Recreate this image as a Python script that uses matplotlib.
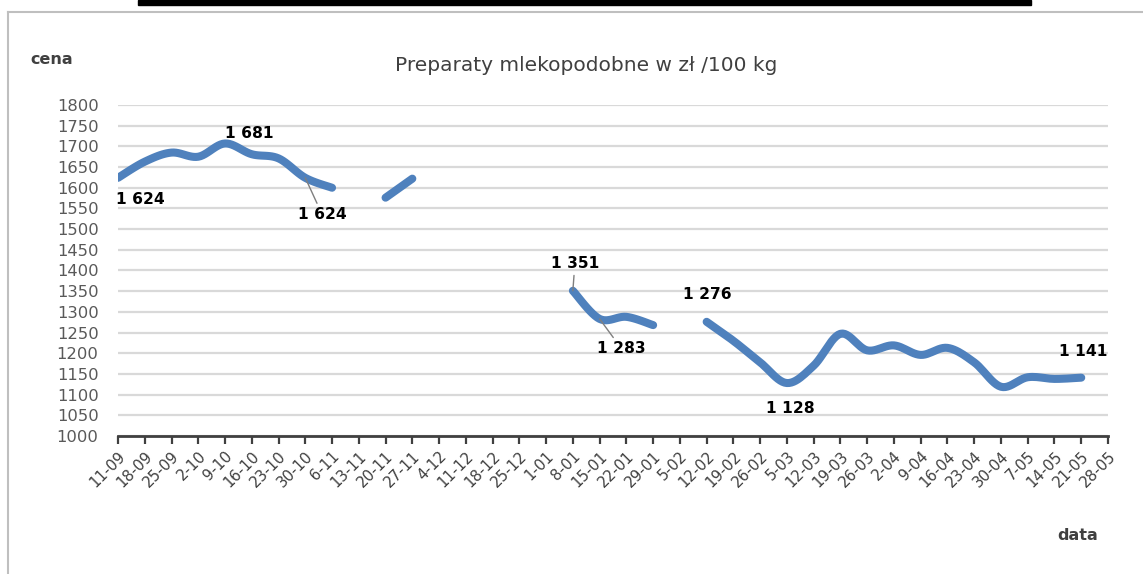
import matplotlib.pyplot as plt
from matplotlib.lines import Line2D
from matplotlib.patches import Rectangle
import numpy as np

nan = np.nan

# weekly dates (day-month)
dates = ['11-09', '18-09', '25-09', '2-10', '9-10', '16-10', '23-10', '30-10',
         '6-11', '13-11', '20-11', '27-11', '4-12', '11-12', '18-12', '25-12',
         '1-01', '8-01', '15-01', '22-01', '29-01', '5-02', '12-02', '19-02',
         '26-02', '5-03', '12-03', '19-03', '26-03', '2-04', '9-04', '16-04',
         '23-04', '30-04', '7-05', '14-05', '21-05', '28-05']

# price, zl / 100 kg (gaps = no quotation)
prices = [1624, 1663, 1685, 1675, 1707, 1681, 1671, 1624, 1600, nan,
          1576, 1622, nan, nan, nan, nan, nan, 1351, 1283, 1288,
          1268, nan, 1276, 1230, 1178, 1128, 1170, 1247, 1207, 1219,
          1196, 1213, 1178, 1119, 1142, 1138, 1141, nan]

# which points get a data label
labelled = [0, 5, 7, 17, 18, 22, 25, 36]

line_col = '#4f81bd'
txt_col = '#404040'


def smooth(xs, ys, n=12):
    # catmull-rom curve through the points (like excel "smoothed line")
    if len(xs) < 3:
        return np.array(xs, float), np.array(ys, float)
    p = np.column_stack([xs, ys]).astype(float)
    p = np.vstack([p[0], p, p[-1]])
    out = []
    for k in range(1, len(p) - 2):
        p0, p1, p2, p3 = p[k - 1], p[k], p[k + 1], p[k + 2]
        t = np.linspace(0, 1, n, endpoint=False)[:, None]
        c = 0.5 * ((2 * p1) + (-p0 + p2) * t + (2 * p0 - 5 * p1 + 4 * p2 - p3) * t ** 2
                   + (-p0 + 3 * p1 - 3 * p2 + p3) * t ** 3)
        out.append(c)
    out.append(p[-2][None, :])
    out = np.vstack(out)
    return out[:, 0], out[:, 1]


fig = plt.figure(figsize=(11.43, 5.74), dpi=100)
ax = fig.add_axes([118 / 1143, 1 - 436 / 574, 990 / 1143, 331 / 574])

x = np.arange(len(dates))
y = np.array(prices, float)

# draw each unbroken run separately
seg = []
for i in range(len(x) + 1):
    if i < len(x) and not np.isnan(y[i]):
        seg.append(i)
    elif seg:
        sx, sy = smooth(x[seg], y[seg])
        ax.plot(sx, sy, color=line_col, lw=5.8, solid_capstyle='round',
                solid_joinstyle='round', zorder=3)
        seg = []

# data labels: offsets in pixels from the point, leader line or not
offsets = {0: (22, -22, False), 5: (-2, 21, False), 7: (17, -37, True),
           17: (2, 27, True), 18: (22, -30, True), 22: (1, 27, False),
           25: (3, -25, False), 36: (2, 26, False)}
for i in labelled:
    dx, dy, lead = offsets[i]
    lab = f'{int(prices[i]):,}'.replace(',', ' ')
    kw = {}
    if lead:
        kw['arrowprops'] = dict(arrowstyle='-', color='#7f7f7f', lw=1,
                                shrinkA=1, shrinkB=0)
    ax.annotate(lab, (x[i], prices[i]), xytext=(dx, dy), textcoords='offset pixels',
                ha='center', va='center', fontsize=11.2, fontweight='bold',
                color='black', zorder=4, **kw)

ax.set_xlim(0, len(dates) - 1)
ax.set_ylim(1000, 1800)
ax.set_yticks(np.arange(1000, 1801, 50))
ax.set_xticks(x)
ax.set_xticklabels(dates, rotation=45, ha='right', rotation_mode='anchor',
                   fontsize=10.8, color=txt_col)
ax.tick_params(axis='x', direction='out', length=6, width=1.6, color='#404040', pad=3)
ax.tick_params(axis='y', length=0, labelsize=11.8, labelcolor='#595959', pad=14)
ax.grid(axis='y', color='#d9d9d9', lw=1.6)
ax.set_axisbelow(True)
for s in ['top', 'right', 'left']:
    ax.spines[s].set_visible(False)
ax.spines['bottom'].set_color('#404040')
ax.spines['bottom'].set_linewidth(2)

fig.text(586 / 1143, 1 - 66 / 574, 'Preparaty mlekopodobne w zł /100 kg',
         fontsize=14.5, color=txt_col, va='center', ha='center')
fig.text(30 / 1143, 1 - 60 / 574, 'cena', fontsize=11.5, fontweight='bold',
         color=txt_col, va='center')
fig.text(1057 / 1143, 1 - 535 / 574, 'data', fontsize=11.5, fontweight='bold',
         color=txt_col, va='center')

# chart frame and black bar at the top of the screenshot
fig.add_artist(Line2D([8 / 1143, 8 / 1143], [0, 1 - 12 / 574], transform=fig.transFigure,
                      color='#bfbfbf', lw=1.5))
fig.add_artist(Line2D([8 / 1143, 1], [1 - 12 / 574, 1 - 12 / 574], transform=fig.transFigure,
                      color='#bfbfbf', lw=1.5))
fig.add_artist(Rectangle((138 / 1143, 1 - 5 / 574), 893 / 1143, 5 / 574,
                         transform=fig.transFigure, color='black'))

fig.savefig('out.png', dpi=100)
